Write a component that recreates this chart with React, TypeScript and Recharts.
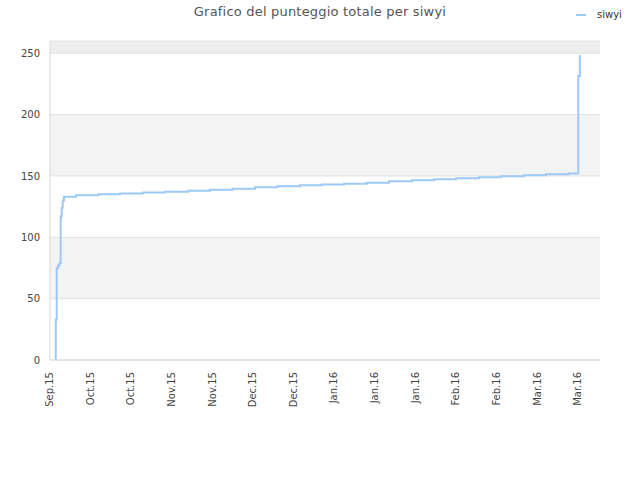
import React from 'react';
import { LineChart, Line, XAxis, YAxis, CartesianGrid, Legend } from 'recharts';

// day index since start of the period
const days: number[] = [
  1.8, 1.8, 1.8, 1.8, 1.8, 2.1, 2.1, 2.1, 2.5, 3.0, 3.35, 3.35, 3.35, 3.66, 3.97,
  4.38, 8.1, 15.1, 21.9, 29.0, 36.0, 43.2, 50.0, 57.1, 64.1, 71.1, 78.2, 85.0,
  91.9, 99.0, 106.0, 113.2, 120.1, 127.0, 134.2, 141.0, 148.2, 155.1, 162.1,
  165.2, 165.2, 165.2, 165.2, 165.7,
];
const scores: number[] = [
  0, 7, 19, 27, 33, 38, 62, 75, 77, 79, 82, 98, 117, 124, 130,
  133.1, 134.2, 135.0, 135.8, 136.6, 137.2, 138.0, 138.8, 139.6, 140.8, 141.6, 142.4, 143.1,
  143.7, 144.5, 145.7, 146.5, 147.3, 148.1, 148.9, 149.7, 150.5, 151.3, 152.1,
  170.6, 192, 214, 231.5, 248.6,
];
const tickDays: number[] = [1, 13.7, 26.4, 39.1, 51.8, 64.5, 77.2, 89.9, 102.6, 115.3, 128, 140.7, 153.4, 166.1];
const tickLabels: string[] = [
  'Sep.15', 'Oct.15', 'Oct.15', 'Nov.15', 'Nov.15', 'Dec.15', 'Dec.15',
  'Jan.16', 'Jan.16', 'Jan.16', 'Feb.16', 'Feb.16', 'Mar.16', 'Mar.16',
];
const yTicks: number[] = [0, 50, 100, 150, 200, 250];
const seriesName = 'siwyi';
const title = 'Grafico del punteggio totale per siwyi';

const data = days.map((d, i) => ({ day: d, score: scores[i] }));

const FONT = '"DejaVu Sans", sans-serif';
const LINE_COLOR = '#9ccaf5';
const BORDER = '#d9d9d9';

const XTick = (props: any) => {
  const { x, y, payload } = props;
  const idx = tickDays.indexOf(payload.value);
  const label = idx >= 0 ? tickLabels[idx] : '';
  return (
    <g transform={`translate(${x},${y})`}>
      <text transform="rotate(-90)" x={-4} y={0} textAnchor="end" fontSize={10} fill="#444" fontFamily={FONT}>
        {label}
      </text>
    </g>
  );
};

const LegendContent = () => (
  <div style={{ display: 'flex', alignItems: 'center', fontFamily: FONT, fontSize: 10, color: '#333' }}>
    <svg width={12} height={10} style={{ marginRight: 9 }}>
      <line x1={0} y1={5} x2={10} y2={5} stroke={LINE_COLOR} strokeWidth={2} />
    </svg>
    <span>{seriesName}</span>
  </div>
);

export default function App() {
  return (
    <div style={{ position: 'absolute', left: 0, top: 0, width: 640, height: 480, background: '#fff' }}>
      <div
        style={{
          position: 'absolute', left: 0, top: 4, width: 640, textAlign: 'center',
          fontFamily: FONT, fontSize: 13, color: '#555', lineHeight: '16px', letterSpacing: 0.2,
        }}
      >
        {title}
      </div>
      <LineChart width={640} height={480} data={data} margin={{ top: 41, right: 40, bottom: 60, left: 0 }}>
        <CartesianGrid
          vertical={false}
          stroke="#e2e2e2"
          horizontalFill={['#eeeeee', '#ffffff', '#f3f3f3', '#ffffff', '#f3f3f3', '#ffffff']}
          fillOpacity={1}
        />
        <XAxis
          dataKey="day"
          type="number"
          domain={[0, 172]}
          ticks={tickDays}
          interval={0}
          tickLine={false}
          axisLine={{ stroke: BORDER }}
          height={60}
          tick={<XTick />}
        />
        <XAxis xAxisId="top" orientation="top" type="number" domain={[0, 172]} height={0} tick={false} tickLine={false} axisLine={{ stroke: BORDER }} />
        <YAxis
          type="number"
          domain={[0, 260]}
          ticks={yTicks}
          interval={0}
          width={50}
          tickLine={false}
          axisLine={{ stroke: BORDER }}
          tick={{ fontSize: 10, fill: '#444', fontFamily: FONT }}
          tickMargin={4}
        />
        <YAxis yAxisId="right" orientation="right" domain={[0, 260]} width={0} tick={false} tickLine={false} axisLine={{ stroke: BORDER }} />
        <Legend
          layout="horizontal"
          verticalAlign="middle"
          align="center"
          content={<LegendContent />}
          wrapperStyle={{ top: 9, left: 576, width: 64, height: 14 }}
        />
        <Line
          type="stepAfter"
          dataKey="score"
          name={seriesName}
          stroke={LINE_COLOR}
          strokeWidth={2}
          dot={false}
          isAnimationActive={false}
        />
      </LineChart>
    </div>
  );
}
